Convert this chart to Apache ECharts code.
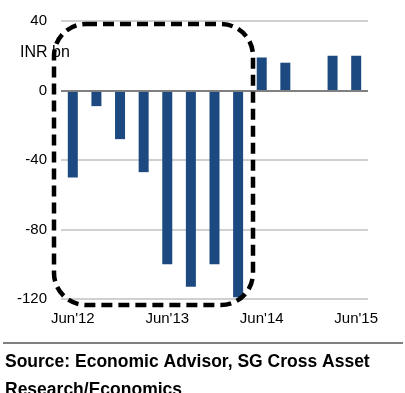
<!DOCTYPE html>
<html><head><meta charset="utf-8">
<script src="https://cdn.jsdelivr.net/npm/echarts@6/dist/echarts.min.js"></script>
<style>html,body{margin:0;padding:0;background:#fff}#c{width:405px;height:393px}</style>
</head><body><div id="c"></div>
<script>
const categories = ["Jun'12","Sep'12","Dec'12","Mar'13","Jun'13","Sep'13","Dec'13","Mar'14","Jun'14","Sep'14","Dec'14","Mar'15","Jun'15"];
const values = [-50, -9, -28, -47, -100, -113, -100, -119, 19, 16, 0.3, 20, 20];
const yTicks = {min: -120, max: 40, interval: 40};
const xLabelsShown = ["Jun'12","Jun'13","Jun'14","Jun'15"];

const chart = echarts.init(document.getElementById('c'));
chart.setOption({
  animation: false,
  grid: {left: 61, right: 37, top: 21, bottom: 94},
  xAxis: {
    type: 'category', data: categories,
    axisLine: {show: false}, axisTick: {show: false},
    axisLabel: {
      interval: 0, margin: 12,
      formatter: v => xLabelsShown.includes(v) ? v : '',
      color: '#000', fontFamily: 'Liberation Sans, Arial', fontSize: 15
    }
  },
  yAxis: {
    type: 'value', min: yTicks.min, max: yTicks.max, interval: yTicks.interval,
    axisLine: {show: false}, axisTick: {show: false},
    axisLabel: {color: '#000', fontFamily: 'Liberation Sans, Arial', fontSize: 15, margin: 14},
    splitLine: {lineStyle: {color: '#d0d0d0', width: 2}}
  },
  series: [{
    type: 'bar', data: values, barWidth: 10,
    itemStyle: {color: '#1c4a80'},
    markLine: {
      silent: true, symbol: 'none', label: {show: false},
      lineStyle: {color: '#808080', width: 2, type: 'solid'},
      data: [{yAxis: 0}]
    }
  }],
  graphic: [
    {type: 'text', left: 20, top: 45, style: {text: 'INR bn', font: '16px Liberation Sans, Arial', fill: '#000'}},
    {type: 'rect', shape: {x: 54, y: 24, width: 199, height: 281, r: 32},
     style: {fill: 'none', stroke: '#000', lineWidth: 4.5, lineDash: [11, 6]}, z: 100},
    {type: 'line', shape: {x1: 3, y1: 343, x2: 403, y2: 343}, style: {stroke: '#808080', lineWidth: 2}},
    {type: 'text', left: 5, top: 353, style: {text: 'Source: Economic Advisor, SG Cross Asset', font: 'bold 17.5px Liberation Sans, Arial', fill: '#000'}},
    {type: 'text', left: 5, top: 381, style: {text: 'Research/Economics', font: 'bold 17.5px Liberation Sans, Arial', fill: '#000'}}
  ]
});
</script></body></html>
